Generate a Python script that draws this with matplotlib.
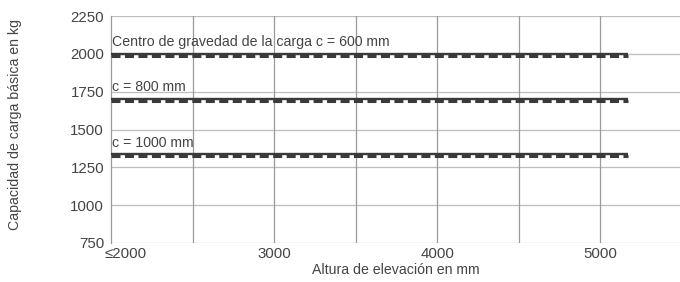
import matplotlib
matplotlib.use("Agg")
import matplotlib.pyplot as plt
import matplotlib.transforms as mtransforms

plt.rcParams['font.family'] = ['Liberation Sans', 'DejaVu Sans']
plt.rcParams['lines.scale_dashes'] = False

# Data
heights = [2000, 5170]
capacity_600 = [2000, 2000]
capacity_800 = [1700, 1700]
capacity_1000 = [1335, 1335]
series = [capacity_600, capacity_800, capacity_1000]
series_labels = ["Centro de gravedad de la carga c = 600 mm", "c = 800 mm", "c = 1000 mm"]
xticks = [2000, 3000, 4000, 5000]
xticklabels = ["≤2000", "3000", "4000", "5000"]
yticks = [750, 1000, 1250, 1500, 1750, 2000, 2250]

text_color = "#444444"
line_color = "#3a3a3a"
fs = 10.2
tfs = 10.8

fig = plt.figure(figsize=(6.8, 2.82), dpi=100)
ax = fig.add_axes([111/680, 1 - 243/282, 1 - 111/680, (243-16)/282])
ax.set_xlim(2000, 5490)
ax.set_ylim(750, 2250)

# grid
for y in yticks:
    ax.axhline(y, color="#bdbdbd", lw=0.9, zorder=1)
for x in [2500, 3000, 3500, 4000, 4500, 5000]:
    ax.axvline(x, color="#9a9a9a", lw=0.9, zorder=1)

for s in ["top", "right", "bottom"]:
    ax.spines[s].set_visible(False)
ax.spines["left"].set_color("#9a9a9a")
ax.spines["left"].set_linewidth(0.9)

down = mtransforms.ScaledTranslation(0, -1.3/72, fig.dpi_scale_trans)
for vals, lab in zip(series, series_labels):
    ax.plot(heights, vals, color=line_color, lw=1.7, solid_capstyle="butt", zorder=3)
    ax.plot(heights, vals, color=line_color, lw=2.2, dashes=(6.5, 3.2),
            dash_capstyle="butt", transform=ax.transData + down, zorder=3)
    ax.annotate(lab, xy=(heights[0], vals[0]), xytext=(1.0, 3.5),
                textcoords="offset points", ha="left", va="bottom",
                fontsize=fs, color=text_color, zorder=4)

ax.set_xticks(xticks)
ax.set_xticklabels(xticklabels)
ax.set_yticks(yticks)
ax.tick_params(length=0, labelsize=tfs, labelcolor=text_color, pad=5)
ax.tick_params(axis="x", pad=3)
lbl0 = ax.get_xticklabels()[0]
lbl0.set_ha("left")
lbl0.set_transform(lbl0.get_transform() + mtransforms.ScaledTranslation(-6/100, 0, fig.dpi_scale_trans))

ax.set_xlabel("Altura de elevación en mm", fontsize=fs, color=text_color, labelpad=1)
fig.text(15/680, 1 - 125/282, "Capacidad de carga básica en kg", rotation=90,
         ha="center", va="center", fontsize=fs, color=text_color)

fig.savefig("out.png", dpi=100)
